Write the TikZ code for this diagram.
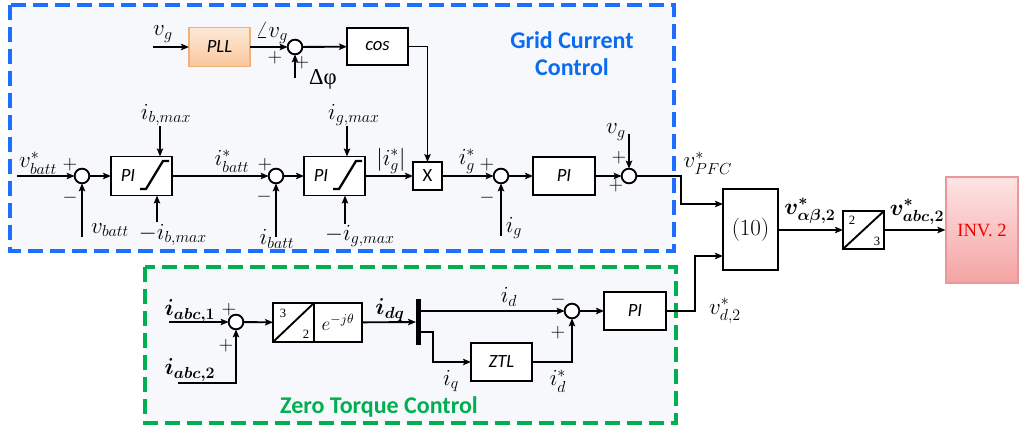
\documentclass[tikz,border=0pt]{standalone}
\usepackage{fontspec}
\usepackage{amsmath,bm}
\usetikzlibrary{arrows.meta,calc}
\newfontfamily\carl{Carlito}
\newfontfamily\tms{Liberation Serif}
\definecolor{gblue}{HTML}{1F6FFF}
\definecolor{gtext}{HTML}{0A6CF0}
\definecolor{zgreen}{HTML}{00B050}
\definecolor{bgfill}{HTML}{F6F8FB}
\definecolor{plltop}{HTML}{FDE9D8}
\definecolor{pllbot}{HTML}{F9C79C}
\definecolor{pllbd}{HTML}{F2B07A}
\definecolor{invtop}{HTML}{FFE4E4}
\definecolor{invbot}{HTML}{F4A3A3}
\definecolor{invbd}{HTML}{E89898}
\definecolor{invred}{HTML}{F00000}
\begin{document}
\begin{tikzpicture}[x=0.75pt,y=-0.75pt,
  ln/.style={line width=1.4pt},
  arr/.style={ln,-{Stealth[length=6pt,width=4.8pt,inset=1.2pt]}},
  blk/.style={draw,line width=1.4pt,fill=white,inner sep=0pt,outer sep=0pt},
  sumj/.style={circle,draw,line width=1.4pt,fill=white,minimum size=11pt,inner sep=0pt,outer sep=0pt},
  lbl/.style={font=\fontsize{17.28}{19}\selectfont,inner sep=0pt},
  sgn/.style={font=\fontsize{14.4}{15}\selectfont,inner sep=0pt},
  sf/.style={font=\carl\itshape\fontsize{14}{16}\selectfont},
  sm/.style={font=\tms\fontsize{9.5}{10}\selectfont,inner sep=0pt},
  dashbox/.style={line width=2.3pt,dash pattern=on 11.25pt off 5.25pt,fill=bgfill},
]
\useasboundingbox (0,0) rectangle (1021,434);
% group boxes
\draw[dashbox,draw=gblue] (10,5) rectangle (674,251);
\draw[dashbox,draw=zgreen] (145,267) rectangle (676,423);
\node[font=\carl\bfseries\fontsize{18}{21}\selectfont,text=gtext,align=center] (gcc) at (572,54) {Grid Current\\[-1pt]Control};
\node[font=\carl\bfseries\fontsize{18}{21}\selectfont,text=zgreen] (ztc) at (379,407) {Zero Torque Control};

% ---------- top row ----------
\coordinate (vgin) at (153,47);
\node[blk,sf,draw=pllbd,top color=plltop,bottom color=pllbot,minimum width=45.75pt,minimum height=29.25pt] (PLL) at (219.5,47) {PLL};
\node[sumj] (sA) at (295,47) {};
\coordinate (dphi) at (295,78);
\node[blk,sf,minimum width=45.75pt,minimum height=27.75pt] (cos) at (377.5,46.5) {cos};
\node[lbl] (lvg1) at (163,34) {$v_g$};
\node[lbl] (lang) at (272,33) {$\angle v_g$};
\node[sgn] (pA1) at (275,58) {$+$};
\node[sgn] (pA2) at (302,63) {$+$};
\node[font=\tms\fontsize{17}{19}\selectfont,inner sep=0pt] (ldphi) at (323,79) {Δφ};

% ---------- middle row ----------
\coordinate (vbin) at (17,176);
\node[sumj] (s1) at (82,176) {};
\coordinate (vbb) at (82,237);
\node[blk,minimum width=45.75pt,minimum height=29.25pt] (PI1) at (141.5,176) {};
\node[sf] (PI1t) at ($(PI1.west)+(17,0)$) {PI};
\draw[line width=1.7pt] ($(PI1.west)+(29,13)$) -- ++(6,0) -- ++(17,-28) -- ++(6,0);
\coordinate (ib1) at (160,126);
\coordinate (ib2) at (157,222);
\node[sumj] (s2) at (276,176) {};
\coordinate (ibb) at (276,237);
\node[blk,minimum width=45.75pt,minimum height=29.25pt] (PI2) at (334.5,176) {};
\node[sf] (PI2t) at ($(PI2.west)+(17,0)$) {PI};
\draw[line width=1.7pt] ($(PI2.west)+(29,13)$) -- ++(6,0) -- ++(17,-28) -- ++(6,0);
\coordinate (ig1) at (347,126);
\coordinate (ig2) at (345,224);
\node[blk,font=\carl\fontsize{14}{16}\selectfont,minimum width=21.75pt,minimum height=21pt] (X) at (427.5,176) {X};
\node[sumj] (s3) at (501,176) {};
\coordinate (igb) at (501,236);
\node[blk,sf,minimum width=46.5pt,minimum height=28.5pt] (PI3) at (564,176) {PI};
\node[sumj] (s4) at (629,176) {};
\coordinate (vgt) at (629,134);
\coordinate (j1) at (681,190);
\coordinate (ya) at (0,204);
\coordinate (yb) at (0,256);
\coordinate (j2) at (695,280);

% right part
\node[blk,minimum width=41.25pt,minimum height=60.75pt,font=\fontsize{17.28}{20}\selectfont] (B10) at (750.5,229.5) {$(10)$};
\node[blk,minimum width=30.75pt,minimum height=28.5pt] (B23) at (863.5,230) {};
\draw[ln] (B23.south west) -- (B23.north east);
\node[sm] (b23a) at (852,220) {2};
\node[sm] (b23b) at (877,241) {3};
\node[draw=invbd,line width=0.8pt,top color=invtop,bottom color=invbot,minimum width=54pt,minimum height=79.5pt,font=\tms\fontsize{14}{16}\selectfont,text=invred] (INV) at (982,230) {INV. 2};

% labels middle row
\node[lbl] (lvb) at (38,163) {$v^*_{batt}$};
\node[sgn] (p11) at (70,165) {$+$};
\node[sgn] (p12) at (70,198) {$-$};
\node[lbl] (lvbatt) at (110,230) {$v_{batt}$};
\node[lbl] (libm) at (166,115) {$i_{b,max}$};
\node[lbl] (libm2) at (173,235) {$-i_{b,max}$};
\node[lbl] (libs) at (232,161) {$i^*_{batt}$};
\node[sgn] (p21) at (265,165) {$+$};
\node[sgn] (p22) at (264,197) {$-$};
\node[lbl] (libatt) at (277,239) {$i_{batt}$};
\node[lbl] (ligm) at (354,115) {$i_{g,max}$};
\node[lbl] (ligm2) at (360,236) {$-i_{g,max}$};
\node[lbl] (ligabs) at (391,161) {$|i^*_g|$};
\node[lbl] (ligs) at (467,161) {$i^*_g$};
\node[sgn] (p31) at (487,165) {$+$};
\node[sgn] (p32) at (487,198) {$-$};
\node[lbl] (lig) at (514,228) {$i_g$};
\node[lbl] (lvg2) at (616,132) {$v_g$};
\node[sgn] (p41) at (619,158) {$+$};
\node[sgn] (p42) at (616,186) {$+$};
\node[lbl] (lpfc) at (708,163) {$v^*_{PFC}$};
\node[lbl] (lvab) at (810,211) {$\bm{v^*_{\alpha\beta,2}}$};
\node[lbl] (lvabc) at (917,212) {$\bm{v^*_{abc,2}}$};
\node[lbl] (lvd) at (725,311) {$v^*_{d,2}$};

% ---------- green part ----------
\coordinate (ia1) at (169,322);
\coordinate (ia2) at (178,383);
\node[sumj] (s5) at (236,322) {};
\node[blk,minimum width=30.75pt,minimum height=29.25pt] (T32) at (293.5,322.5) {};
\node[blk,minimum width=36pt,minimum height=29.25pt,font=\fontsize{14.4}{17}\selectfont] (E) at (338,322.5) {$e^{-j\theta}$};
\draw[ln] (T32.south west) -- (T32.north east);
\node[sm] (t32a) at (283,313) {3};
\node[sm] (t32b) at (306,334) {2};
\node[fill=black,minimum width=3.75pt,minimum height=34.5pt,inner sep=0pt,outer sep=0pt] (bar) at (418.5,322) {};
\node[sumj] (s6) at (572,311) {};
\coordinate (yq) at (0,332);
\coordinate (j3) at (433,347);
\node[blk,sf,minimum width=45.75pt,minimum height=28.5pt] (ZTL) at (501.5,362) {ZTL};
\node[blk,sf,minimum width=46.5pt,minimum height=28.5pt] (PI4) at (635,311) {PI};

\node[lbl] (lia1) at (190,311) {$\bm{i_{abc,1}}$};
\node[sgn] (p51) at (229,310) {$+$};
\node[sgn] (p52) at (226,346) {$+$};
\node[lbl] (lia2) at (190,370) {$\bm{i_{abc,2}}$};
\node[lbl] (lidq) at (390,310) {$\bm{i_{dq}}$};
\node[lbl] (lid) at (509,297) {$i_d$};
\node[sgn] (p61) at (558,300) {$-$};
\node[sgn] (p62) at (558,333) {$+$};
\node[lbl] (liq) at (451,381) {$i_q$};
\node[lbl] (lids) at (558,381) {$i^*_d$};

% ---------- connectors ----------
\draw[arr] (vgin) -- (PLL);
\draw[arr] (PLL) -- (sA);
\draw[arr] (dphi) -- (sA);
\draw[arr] (sA) -- (cos);
\draw[arr] (cos.east) -| (X.north);

\draw[arr] (vbin) -- (s1);
\draw[arr] (vbb) -- (s1);
\draw[arr] (s1) -- (PI1);
\draw[arr] (ib1) -- (ib1 |- PI1.north);
\draw[arr] (ib2) -- (ib2 |- PI1.south);
\draw[arr] (PI1) -- (s2);
\draw[arr] (ibb) -- (s2);
\draw[arr] (s2) -- (PI2);
\draw[arr] (ig1) -- (ig1 |- PI2.north);
\draw[arr] (ig2) -- (ig2 |- PI2.south);
\draw[arr] (PI2) -- (X);
\draw[arr] (X) -- (s3);
\draw[arr] (igb) -- (s3);
\draw[arr] (s3) -- (PI3);
\draw[arr] (PI3) -- (s4);
\draw[arr] (vgt) -- (s4);
\draw[arr] (s4.east) -| (j1) |- (B10.west |- ya);
\draw[arr] (PI4.east) -| (j2) |- (B10.west |- yb);
\draw[arr] (B10.east |- B23) -- (B23);
\draw[arr] (B23) -- (INV.west |- B23);

\draw[arr] (ia1) -- (s5);
\draw[arr] (ia2) -| (s5);
\draw[arr] (s5) -- (T32);
\draw[arr] (E) -- (bar);
\draw[arr] (bar.east |- s6) -- (s6);
\draw[arr] (bar.east |- yq) -| (j3) |- (ZTL);
\draw[arr] (ZTL) -| (s6);
\draw[arr] (s6) -- (PI4);
\end{tikzpicture}
\end{document}
